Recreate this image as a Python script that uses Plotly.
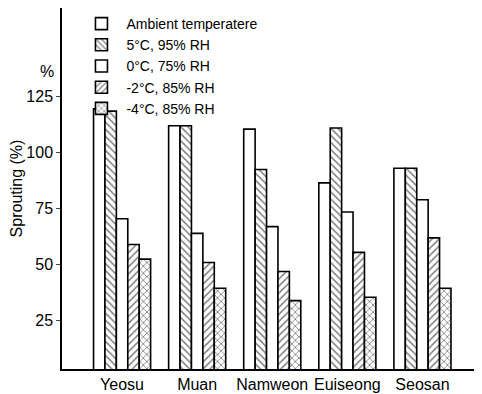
import plotly.graph_objects as go

sites = ["Yeosu", "Muan", "Namweon", "Euiseong", "Seosan"]
series_names = ["Ambient temperatere", "5°C, 95% RH", "0°C, 75% RH", "-2°C, 85% RH", "-4°C, 85% RH"]
ambient = [119.5, 112, 110.5, 86.5, 93]
c5 = [118.5, 112, 92.5, 111, 93]
c0 = [70.5, 64, 67, 73.5, 79]
cm2 = [59, 51, 47, 55.5, 62]
cm4 = [52.5, 39.5, 34, 35.5, 39.5]
values = [ambient, c5, c0, cm2, cm4]
y_ticks = [25, 50, 75, 100, 125]

patterns = ["", "\\", "", "/", "x"]

fig = go.Figure()
for name, vals, pat in zip(series_names, values, patterns):
    fig.add_trace(go.Bar(
        x=sites, y=vals, name=name,
        marker=dict(color="white", line=dict(color="black", width=1.6),
                    pattern=dict(shape=pat, fgcolor="black", bgcolor="white", size=5, solidity=0.3)),
    ))

font = "Liberation Sans, Arial, sans-serif"
fig.update_layout(
    width=474, height=386,
    margin=dict(l=54, r=7, t=0, b=25),
    paper_bgcolor="white", plot_bgcolor="white",
    barmode="group", bargap=0.24, bargroupgap=0,
    font=dict(family=font, color="black", size=15),
    showlegend=True,
    legend=dict(x=0.035, y=1.0, xanchor="left", yanchor="top", bgcolor="rgba(0,0,0,0)",
                font=dict(size=14, family=font), tracegroupgap=0, itemwidth=40),
    xaxis=dict(range=[-0.8, 4.7], showline=True, linecolor="black", linewidth=1.5,
               ticks="", showgrid=False, tickfont=dict(size=16), tickangle=0, automargin=False),
    yaxis=dict(range=[3.5, 164.5], showline=True, linecolor="black", linewidth=1.5,
               tickvals=y_ticks, ticktext=[str(t) for t in y_ticks], ticks="outside", ticklen=4,
               showgrid=False, zeroline=False, tickfont=dict(size=16), automargin=False,
               title=dict(text="Sprouting (%)", font=dict(size=16), standoff=2)),
    annotations=[dict(text="%", x=-0.015, y=0.795, xref="paper", yref="paper", xanchor="right",
                      yanchor="bottom", showarrow=False, font=dict(size=16))],
)
fig.write_html("out.html")
